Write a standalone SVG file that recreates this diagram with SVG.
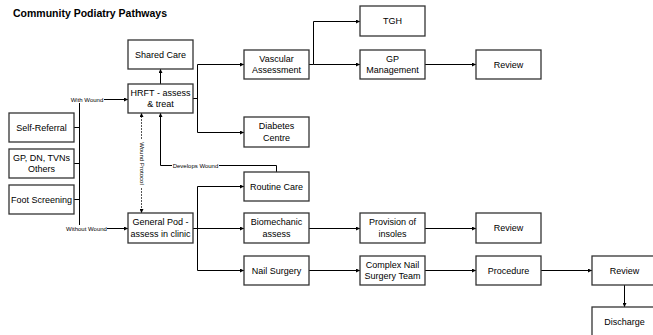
<svg xmlns="http://www.w3.org/2000/svg" width="653" height="335" viewBox="0 0 653 335">
<style>
.box{fill:#fff;stroke:#333;stroke-width:1.3}
.t{font-family:"Liberation Sans",Arial,sans-serif;font-size:9px;fill:#000;text-anchor:middle}
.lbl{font-family:"Liberation Sans",Arial,sans-serif;font-size:6px;fill:#000;text-anchor:middle}
.c{fill:none;stroke:#000;stroke-width:1}
.a{marker-end:url(#ah)}
.d{stroke-dasharray:2 1;stroke:#555}
.bg{fill:#fff}
</style>
<defs>
<marker id="ah" viewBox="0 0 6 6" refX="6" refY="3" markerWidth="4" markerHeight="4" orient="auto" markerUnits="userSpaceOnUse"><path d="M0,0 L6,3 L0,6 z" fill="#000"/></marker>
<marker id="ahs" viewBox="0 0 6 6" refX="0" refY="3" markerWidth="4" markerHeight="4" orient="auto" markerUnits="userSpaceOnUse"><path d="M6,0 L0,3 L6,6 z" fill="#000"/></marker>
</defs>
<rect width="653" height="335" fill="#fff"/>
<text x="13" y="16.5" style="font-family:'Liberation Sans',Arial,sans-serif;font-size:10.5px;font-weight:bold">Community Podiatry Pathways</text>

<g id="connectors">
  <path class="c" d="M79.5,103 V225"/>
  <path class="c" d="M74,127.5 H79.5 M74,163.5 H79.5 M74,199.5 H79.5"/>
  <path class="c a" d="M104,99.5 H128"/>
  <path class="c a" d="M107,228.5 H128"/>
  <path class="c a" d="M160.5,84 V69"/>
  <path class="c" d="M193,98.5 H197.5"/>
  <path class="c a" d="M197.5,64.5 H244"/>
  <path class="c a" d="M197.5,132.5 H244"/>
  <path class="c" d="M197.5,64.5 V132.5"/>
  <path class="c d" d="M141.5,113 V213" marker-start="url(#ahs)" marker-end="url(#ah)"/>
  <path class="c a" d="M276.5,172 V165.5 H160.5 V113"/>
  <path class="c" d="M193,228.5 H197.5"/>
  <path class="c" d="M197.5,186.5 V270.5"/>
  <path class="c a" d="M197.5,186.5 H244"/>
  <path class="c a" d="M197.5,228.5 H244"/>
  <path class="c a" d="M197.5,270.5 H244"/>
  <path class="c" d="M309,64.5 H313.5"/>
  <path class="c" d="M313.5,21.5 V64.5"/>
  <path class="c a" d="M313.5,21.5 H360"/>
  <path class="c a" d="M313.5,64.5 H360"/>
  <path class="c a" d="M425,64.5 H476"/>
  <path class="c a" d="M309,228.5 H360"/>
  <path class="c a" d="M425,228.5 H476"/>
  <path class="c a" d="M309,270.5 H360"/>
  <path class="c a" d="M425,270.5 H476"/>
  <path class="c a" d="M541,270.5 H592"/>
  <path class="c a" d="M624.5,285 V307"/>
  <rect class="bg" x="70" y="96" width="34" height="7"/>
  <text class="lbl" x="87" y="101.5">With Wound</text>
  <rect class="bg" x="66" y="225" width="41" height="7"/>
  <text class="lbl" x="86.5" y="230.5">Without Wound</text>
  <rect class="bg" x="172" y="162" width="47" height="7"/>
  <text class="lbl" x="195.5" y="167.5">Develops Wound</text>
  <g transform="translate(141.5,163.5) rotate(90)">
    <rect class="bg" x="-24" y="-3" width="48" height="6"/>
    <text class="lbl" x="0" y="2">Wound Protocol</text>
  </g>
</g>

<g id="shared"><rect class="box" x="128" y="40" width="65" height="29"/><text class="t" x="160.5" y="57.5">Shared Care</text></g>
<g id="hrft"><rect class="box" x="128" y="84" width="65" height="29"/><text class="t" x="160.5" y="96">HRFT - assess</text><text class="t" x="160.5" y="107">&amp; treat</text></g>
<g id="selfref"><rect class="box" x="9" y="113" width="65" height="29"/><text class="t" x="41.5" y="130.5">Self-Referral</text></g>
<g id="gpdn"><rect class="box" x="9" y="149" width="65" height="29"/><text class="t" x="41.5" y="161">GP, DN, TVNs</text><text class="t" x="41.5" y="172">Others</text></g>
<g id="foot"><rect class="box" x="9" y="185" width="65" height="29"/><text class="t" x="41.5" y="202.5">Foot Screening</text></g>
<g id="genpod"><rect class="box" x="128" y="213" width="65" height="30"/><text class="t" x="160.5" y="225">General Pod -</text><text class="t" x="160.5" y="236.5">assess in clinic</text></g>
<g id="vascular"><rect class="box" x="244" y="50" width="65" height="29"/><text class="t" x="276.5" y="61.5">Vascular</text><text class="t" x="276.5" y="72.5">Assessment</text></g>
<g id="diabetes"><rect class="box" x="244" y="117" width="65" height="30"/><text class="t" x="276.5" y="129">Diabetes</text><text class="t" x="276.5" y="140.5">Centre</text></g>
<g id="routine"><rect class="box" x="244" y="172" width="65" height="29"/><text class="t" x="276.5" y="189.5">Routine Care</text></g>
<g id="biomech"><rect class="box" x="244" y="213" width="65" height="30"/><text class="t" x="276.5" y="225">Biomechanic</text><text class="t" x="276.5" y="236.5">assess</text></g>
<g id="nailsurgery"><rect class="box" x="244" y="256" width="65" height="29"/><text class="t" x="276.5" y="273.5">Nail Surgery</text></g>
<g id="tgh"><rect class="box" x="360" y="6" width="65" height="30"/><text class="t" x="392.5" y="23.5">TGH</text></g>
<g id="gpmgmt"><rect class="box" x="360" y="50" width="65" height="29"/><text class="t" x="392.5" y="61.5">GP</text><text class="t" x="392.5" y="72.5">Management</text></g>
<g id="review1"><rect class="box" x="476" y="50" width="65" height="29"/><text class="t" x="508.5" y="67.5">Review</text></g>
<g id="provision"><rect class="box" x="360" y="213" width="65" height="30"/><text class="t" x="392.5" y="225">Provision of</text><text class="t" x="392.5" y="236.5">insoles</text></g>
<g id="review2"><rect class="box" x="476" y="213" width="65" height="30"/><text class="t" x="508.5" y="231">Review</text></g>
<g id="complex"><rect class="box" x="360" y="256" width="65" height="29"/><text class="t" x="392.5" y="267.5">Complex Nail</text><text class="t" x="392.5" y="278.5">Surgery Team</text></g>
<g id="procedure"><rect class="box" x="476" y="256" width="65" height="29"/><text class="t" x="508.5" y="273.5">Procedure</text></g>
<g id="review3"><rect class="box" x="592" y="256" width="65" height="29"/><text class="t" x="624.5" y="273.5">Review</text></g>
<g id="discharge"><rect class="box" x="592" y="307" width="65" height="30"/><text class="t" x="624.5" y="324.5">Discharge</text></g>
</svg>
